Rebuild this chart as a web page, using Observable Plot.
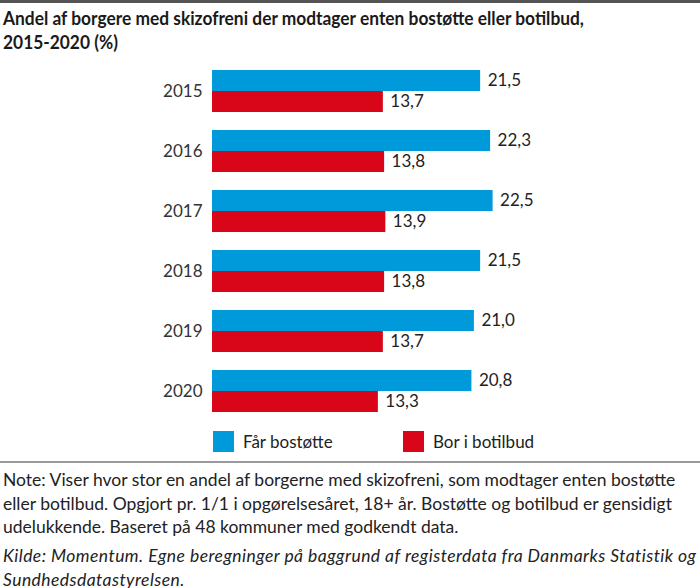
<!DOCTYPE html>
<html><head><meta charset="utf-8">
<script src="https://cdn.jsdelivr.net/npm/d3@7"></script>
<script src="https://cdn.jsdelivr.net/npm/@observablehq/plot@0.6"></script>
<style>
html,body{margin:0;padding:0;background:#fff;}
body{width:700px;height:588px;overflow:hidden;font-family:Lato,"Open Sans",sans-serif;color:#222;position:relative;}
#topline{position:absolute;left:0;top:0;width:700px;height:3px;background:#555;}
#title{position:absolute;left:3px;top:6px;font-weight:bold;font-size:19.5px;line-height:24px;color:#1a1a1a;white-space:nowrap;transform:scaleX(0.89);transform-origin:left top;}
#chart{position:absolute;left:0;top:59px;}
#legend{position:absolute;top:431px;left:0;width:700px;height:22px;font-size:17px;color:#222;}
.sw{position:absolute;width:21px;height:21px;top:0;}
.lt{position:absolute;top:0;line-height:21px;}
#rule{position:absolute;left:0;top:461px;width:700px;height:2px;background:#999;}
#note{position:absolute;left:3px;top:468px;width:697px;font-size:17.5px;line-height:23.5px;color:#222;}
#source{position:absolute;left:3px;top:544px;width:697px;font-size:17.5px;line-height:23.5px;color:#222;font-style:italic;letter-spacing:0.45px;}
</style></head>
<body>
<div id="topline"></div>
<div id="title">Andel af borgere med skizofreni der modtager enten bostøtte eller botilbud,<br>2015-2020 (%)</div>
<div id="chart"></div>
<div id="legend"></div>
<div id="rule"></div>
<div id="note">Note: Viser hvor stor en andel af borgerne med skizofreni, som modtager enten bostøtte eller botilbud. Opgjort pr. 1/1 i opgørelsesåret, 18+ år. Bostøtte og botilbud er gensidigt udelukkende. Baseret på 48 kommuner med godkendt data.</div>
<div id="source">Kilde: Momentum. Egne beregninger på baggrund af registerdata fra Danmarks Statistik og Sundhedsdatastyrelsen.</div>
<script>
const years = ["2015","2016","2017","2018","2019","2020"];
const series = ["Får bostøtte","Bor i botilbud"];
const bostotte = [21.5,22.3,22.5,21.5,21.0,20.8];
const botilbud = [13.7,13.8,13.9,13.8,13.7,13.3];
const colors = ["#0099d9","#d9061a"];

const data = [];
years.forEach((y,i)=>{
  data.push({year:y, series:series[0], value:bostotte[i]});
  data.push({year:y, series:series[1], value:botilbud[i]});
});
const fmt = v => v.toFixed(1).replace(".", ",");

const chart = Plot.plot({
  width:700, height:363,
  marginLeft:212, marginRight:0, marginTop:2, marginBottom:1,
  style:{fontFamily:"Lato, 'Open Sans', sans-serif", fontSize:"17px", color:"#333", background:"transparent"},
  x:{domain:[0,39.13], axis:null},
  y:{domain:series, axis:null, padding:0},
  fy:{domain:years, paddingInner:0.3, paddingOuter:0.15, label:null, axis:"left", tickSize:0, tickPadding:10},
  color:{domain:series, range:colors},
  marks:[
    Plot.barX(data,{fy:"year", y:"series", x:"value", fill:"series", insetTop:0, insetBottom:0}),
    Plot.text(data,{fy:"year", y:"series", x:"value", text:d=>fmt(d.value), textAnchor:"start", dx:7, fill:"#222", fontSize:17})
  ]
});
document.getElementById("chart").appendChild(chart);

const leg = document.getElementById("legend");
const pos = [[213,243],[403,433]];
series.forEach((s,i)=>{
  const sw=document.createElement("div"); sw.className="sw"; sw.style.left=pos[i][0]+"px"; sw.style.background=colors[i]; leg.appendChild(sw);
  const t=document.createElement("div"); t.className="lt"; t.style.left=pos[i][1]+"px"; t.textContent=s; leg.appendChild(t);
});
</script>
</body></html>
